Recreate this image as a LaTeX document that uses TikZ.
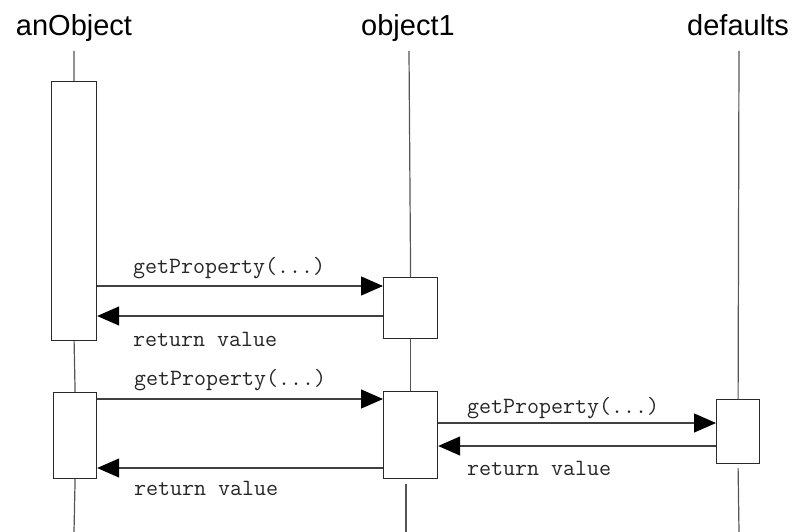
\documentclass[tikz,border=0pt]{standalone}
\usepackage{fontspec}
\setmainfont{Liberation Sans}
\usetikzlibrary{arrows.meta}
\definecolor{lifegray}{HTML}{555555}
\definecolor{msggray}{HTML}{404040}
\definecolor{boxgray}{HTML}{2A2A2A}
\begin{document}
\begin{tikzpicture}[x=1pt,y=-1pt,
  title/.style={font=\fontsize{29}{29}\selectfont, anchor=base, inner sep=0pt},
  activation/.style={draw=boxgray, line width=1.2pt, fill=white, anchor=north west, inner sep=0pt},
  lifeline/.style={draw=lifegray, line width=1.2pt},
  msg/.style={draw=msggray, line width=1.3pt, -{Triangle[length=22pt,width=19pt,color=black]}},
  msglabel/.style={font=\ttfamily\fontsize{23.3}{23.3}\selectfont, anchor=base west, inner sep=0pt, text=black!85}]
\useasboundingbox (0,0) rectangle (793,532);

% participant names
\node[title] (tA) at (74,36) {anObject};
\node[title] (tO) at (408,36) {object1};
\node[title] (tD) at (738,36) {defaults};

% lifeline anchors
\coordinate (Atop) at (74,51);
\coordinate (Abot) at (74,532);
\coordinate (Otop) at (409,51);
\coordinate (Obot) at (406,532);
\coordinate (Dtop) at (739,51);
\coordinate (Dbot) at (739,532);

% activation boxes
\node[activation, minimum width=45pt, minimum height=259pt] (a1) at (51,81) {};
\node[activation, minimum width=43pt, minimum height=86pt] (a2) at (53,392) {};
\node[activation, minimum width=54pt, minimum height=61pt] (o1) at (383,277) {};
\node[activation, minimum width=54pt, minimum height=87pt] (o2) at (383,391) {};
\node[activation, minimum width=43pt, minimum height=64pt] (d1) at (716,399) {};

% lifelines between the boxes
\draw[lifeline] (Atop) -- (a1.north);
\draw[lifeline] (a1.south) -- (a2.north);
\draw[lifeline] (a2.south) -- (Abot);
\draw[lifeline] (Otop) -- (o1.north);
\draw[lifeline] (o1.south) -- (o2.north);
\draw[lifeline] ([yshift=-5pt]o2.south -| Obot) -- (Obot);
\draw[lifeline] (Dtop) -- (d1.north);
\draw[lifeline] ([yshift=-4pt]d1.south) -- (Dbot);

% first call: anObject -> object1
\draw[msg] (a1.east |- 0,286) -- (o1.west |- 0,286);
\node[msglabel] at (133,273) {getProperty(...)};
\draw[msg] (o1.west |- 0,316) -- (a1.east |- 0,316);
\node[msglabel] at (133,346) {return value};

% second call: anObject -> object1 -> defaults
\draw[msg] (a2.east |- 0,399) -- (o2.west |- 0,399);
\node[msglabel] at (134,385) {getProperty(...)};
\draw[msg] (o2.east |- 0,423) -- (d1.west |- 0,423);
\node[msglabel] at (467,413) {getProperty(...)};
\draw[msg] (d1.west |- 0,446) -- (o2.east |- 0,446);
\node[msglabel] at (467,475) {return value};
\draw[msg] (o2.west |- 0,468) -- (a2.east |- 0,468);
\node[msglabel] at (134,495) {return value};
\end{tikzpicture}
\end{document}
